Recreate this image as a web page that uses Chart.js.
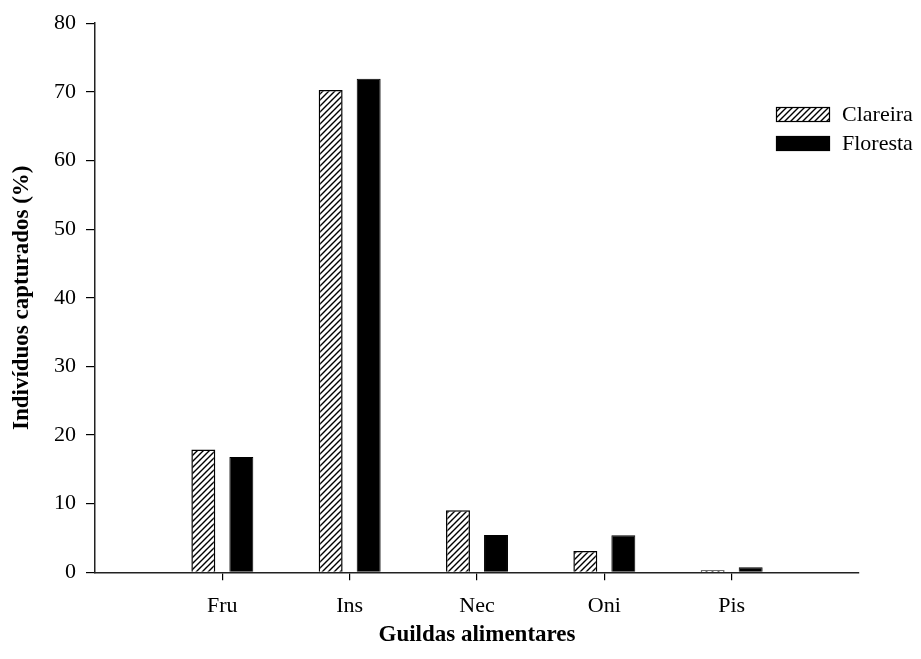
<!DOCTYPE html>
<html>
<head>
<meta charset="utf-8">
<script src="https://cdn.jsdelivr.net/npm/chart.js@4/dist/chart.umd.min.js"></script>
<style>
  html, body { margin: 0; padding: 0; background: #fff; }
  #wrap { position: relative; width: 921px; height: 659px; }
</style>
</head>
<body>
<div id="wrap"><canvas id="c" width="921" height="659"></canvas></div>
<script>
// Feeding guilds and share of captured individuals (%)
const categories = ['Fru', 'Ins', 'Nec', 'Oni', 'Pis'];
const clareira = [17.9, 70.25, 9.05, 3.1, 0.3];
const floresta = [16.8, 71.9, 5.45, 5.4, 0.75];
const seriesNames = ['Clareira', 'Floresta'];
const yTicks = [0, 10, 20, 30, 40, 50, 60, 70, 80];

const SERIF = '"Liberation Serif", "Times New Roman", serif';

// Diagonal hatch fill for the first series
function makeHatch() {
  const s = 6;
  const p = document.createElement('canvas');
  p.width = s; p.height = s;
  const g = p.getContext('2d');
  g.fillStyle = '#fff';
  g.fillRect(0, 0, s, s);
  g.strokeStyle = '#000';
  g.lineWidth = 1.4;
  g.beginPath();
  g.moveTo(0, s); g.lineTo(s, 0);
  g.moveTo(-1, 1); g.lineTo(1, -1);
  g.moveTo(s - 1, s + 1); g.lineTo(s + 1, s - 1);
  g.stroke();
  return document.getElementById('c').getContext('2d').createPattern(p, 'repeat');
}
const hatch = makeHatch();

// empty slots at both ends keep the axis running past the first and last guild
const labels = [''].concat(categories, ['']);
const pad = arr => [null].concat(arr, [null]);

const legendPlugin = {
  id: 'boxLegend',
  afterDraw(chart) {
    const ctx = chart.ctx;
    const x0 = 776, w = 54, h = 15, tops = [107, 136];
    ctx.save();
    chart.data.datasets.forEach((ds, i) => {
      const y = tops[i];
      ctx.fillStyle = ds.backgroundColor;
      ctx.fillRect(x0, y, w, h);
      ctx.strokeStyle = '#000';
      ctx.lineWidth = 1.2;
      ctx.strokeRect(x0 + 0.5, y + 0.5, w - 1, h - 1);
      ctx.fillStyle = '#000';
      ctx.font = '22px ' + SERIF;
      ctx.textBaseline = 'middle';
      ctx.textAlign = 'left';
      ctx.fillText(ds.label, 842, y + h / 2 + 1);
    });
    ctx.restore();
  }
};

new Chart(document.getElementById('c'), {
  type: 'bar',
  data: {
    labels: labels,
    datasets: [
      {
        label: seriesNames[0],
        data: pad(clareira),
        backgroundColor: hatch,
        borderColor: '#000',
        borderWidth: 1.5,
        borderSkipped: 'bottom'
      },
      {
        label: seriesNames[1],
        data: pad(floresta),
        backgroundColor: '#000',
        borderColor: '#000',
        borderWidth: 1,
        borderSkipped: 'bottom'
      }
    ]
  },
  options: {
    responsive: false,
    animation: false,
    devicePixelRatio: 1,
    categoryPercentage: 0.597,
    barPercentage: 0.63,
    layout: { padding: { top: 23, right: 62, left: 0, bottom: 0 } },
    plugins: {
      legend: { display: false },
      tooltip: { enabled: false }
    },
    scales: {
      x: {
        type: 'category',
        offset: false,
        grid: {
          offset: false,
          drawOnChartArea: false,
          drawTicks: true,
          tickLength: 8,
          lineWidth: 1.2,
          color: c => (c.index === 0 || c.index === labels.length - 1) ? 'rgba(0,0,0,0)' : '#000'
        },
        border: { display: true, color: '#222', width: 1.5 },
        ticks: {
          color: '#000',
          font: { family: SERIF, size: 22 },
          padding: 13,
          maxRotation: 0,
          autoSkip: false
        },
        title: {
          display: true,
          text: 'Guildas alimentares',
          color: '#000',
          font: { family: SERIF, size: 23, weight: 'bold' },
          padding: { top: 0, bottom: 10 }
        },
        afterFit: s => { s.height = 659 - 572.3; }
      },
      y: {
        min: 0,
        max: 80,
        afterBuildTicks: s => { s.ticks = yTicks.map(v => ({ value: v })); },
        grid: {
          drawOnChartArea: false,
          drawTicks: true,
          tickLength: 9,
          lineWidth: 1.2,
          color: '#000'
        },
        border: { display: true, color: '#222', width: 1.5 },
        ticks: {
          color: '#000',
          font: { family: SERIF, size: 22 },
          padding: 10
        },
        title: {
          display: true,
          text: 'Indivíduos capturados (%)',
          color: '#000',
          font: { family: SERIF, size: 23, weight: 'bold' },
          padding: { top: 8, bottom: 0 }
        },
        afterFit: s => { s.width = 95; }
      }
    }
  },
  plugins: [legendPlugin]
});
</script>
</body>
</html>
